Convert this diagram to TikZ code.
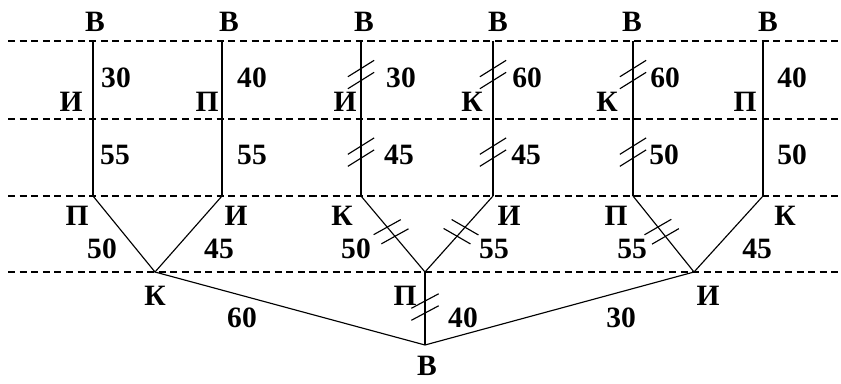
\documentclass[tikz,border=0pt]{standalone}
\usepackage{fontspec}
\setmainfont{Liberation Serif}
\usetikzlibrary{calc}
\newcommand\lbl{\fontsize{16.8pt}{20pt}\selectfont\bfseries}
% two parallel strokes across #1--#2, centred at pos #3, at angle #4
\newcommand\dtick[4]{%
  \coordinate (hc) at ($(#1)!#3!(#2)$);
  \foreach \s in {#1,#2}
    \draw ($(hc)!0.12cm!(\s)$) ++(#4:15.5) -- ++(#4+180:31);
}
\begin{document}
\begin{tikzpicture}[x=0.02cm, y=0.02cm, line width=.65pt,
  every node/.style={font=\lbl, inner sep=0pt},
  guide/.style={dash pattern=on 4pt off 2.6pt}]
  \useasboundingbox (0,0) rectangle (841,383);
  % levels
  \foreach \y in {342,264,187,111} \draw[guide] (8,\y) -- (841,\y);
  % six upper branches
  \foreach \n/\x in {1/93,2/222,3/361,4/493,5/633,6/763} {
    \coordinate (t\n) at (\x,342);
    \coordinate (m\n) at (\x,264);
    \coordinate (a\n) at (\x,187);
    \draw (t\n) -- (a\n);
  }
  \coordinate (K) at (155,111); \coordinate (P) at (425,111);
  \coordinate (I) at (694,111); \coordinate (R) at (425,38);
  \draw (a1) -- (K) -- (a2); \draw (a3) -- (P) -- (a4);
  \draw (a5) -- (I) -- (a6);
  \draw (K) -- (R) -- (I); \draw (P) -- (R);
  % crossed edges
  \dtick{t3}{m3}{.43}{32} \dtick{m3}{a3}{.43}{32}
  \dtick{t4}{m4}{.43}{32} \dtick{m4}{a4}{.43}{32}
  \dtick{t5}{m5}{.43}{32} \dtick{m5}{a5}{.43}{32}
  \dtick{a3}{P}{.47}{29} \dtick{a4}{P}{.47}{-30}
  \dtick{a5}{I}{.47}{30} \dtick{P}{R}{.48}{28}
  % labels
  \foreach \n/\x in {1/95,2/229,3/364,4/498,5/632,6/768}
    \node (v\n) at (\x,361) {В};
  \foreach \n/\x/\t in {1/116/30,2/252/40,3/401/30,4/527/60,5/665/60,6/792/40}
    \node (u\n) at (\x,305) {\t};
  \foreach \n/\x/\t in {1/71/И,2/207/П,3/345/И,4/472/К,5/607/К,6/745/П}
    \node (l\n) at (\x,281) {\t};
  \foreach \n/\x/\t in {1/115/55,2/252/55,3/399/45,4/526/45,5/664/50,6/792/50}
    \node (w\n) at (\x,228) {\t};
  \foreach \n/\x/\t in {1/77/П,2/236/И,3/342/К,4/509/И,5/616/П,6/785/К}
    \node (e\n) at (\x,167) {\t};
  \foreach \n/\x/\t in {1/102/50,2/219/45,3/356/50,4/494/55,5/632/55,6/757/45}
    \node (d\n) at (\x,134) {\t};
  \node (lk) at (155,87) {К};
  \node (lp) at (405,87) {П};
  \node (li) at (708,87) {И};
  \node (dk) at (242,65) {60};
  \node (dp) at (463,65) {40};
  \node (di) at (621,65) {30};
  \node (vr) at (427,17) {В};
\end{tikzpicture}
\end{document}
